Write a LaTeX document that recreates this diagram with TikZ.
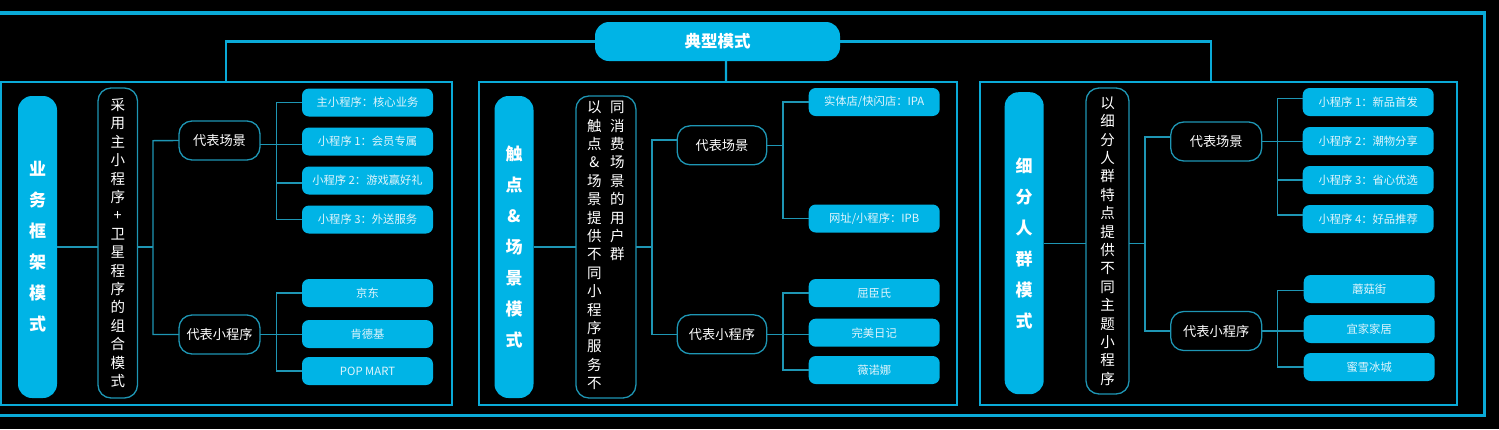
\documentclass[tikz,border=0pt]{standalone}
\usepackage{fontspec}
\usepackage{xcolor}
\usepackage{tikz}
\setmainfont{Noto Sans CJK SC}
\definecolor{accentcyan}{RGB}{0,180,230}
\definecolor{framecyan}{RGB}{10,170,215}
\definecolor{linecyan}{RGB}{30,150,180}
\definecolor{leaftext}{RGB}{225,245,252}
\usetikzlibrary{positioning}

\begin{document}
\begin{tikzpicture}[
    x=1pt, y=-1pt,
    panel/.style={rectangle, draw=framecyan, line width=2pt, outer sep=0pt, minimum width=#1, minimum height=323.5pt},
    root/.style={rectangle, fill=accentcyan, text=white, rounded corners=14pt, inner sep=0pt, outer sep=0pt, minimum width=245pt, minimum height=39pt, font=\fontsize{16.5}{20}\selectfont\bfseries},
    title/.style={rectangle, fill=accentcyan, text=white, rounded corners=14pt, inner sep=0pt, outer sep=0pt, align=center, minimum width=39pt, minimum height=#1, font=\fontsize{17}{31}\selectfont\bfseries},
    mid/.style={rectangle, draw=linecyan, line width=1.3pt, fill=black, text=white, rounded corners=13pt, inner sep=0pt, outer sep=0pt, align=center, minimum height=#1, font=\fontsize{14.5}{18.4}\selectfont},
    sub/.style={rectangle, draw=linecyan, line width=1.3pt, fill=black, text=white, rounded corners=13pt, inner sep=0pt, outer sep=0pt, minimum width=#1, minimum height=39pt, font=\fontsize{13.2}{16}\selectfont},
    leaf/.style={rectangle, fill=accentcyan, text=leaftext, rounded corners=7pt, inner sep=0pt, outer sep=0pt, minimum width=131pt, minimum height=28pt, font=\fontsize{11.3}{14}\selectfont},
    link/.style={draw=linecyan, line width=1.4pt},
    toplink/.style={draw=framecyan, line width=2.2pt}
]
\useasboundingbox[fill=black] (0,0) rectangle (1499,429);
\draw[framecyan, line width=3.8pt] (-5,13) rectangle (1484.5,415.5);

\node[panel=451.5pt] (frame1) at (226.25,243.25) {};
\node[panel=477.7pt, right=27pt of frame1] (frame2) {};
\node[panel=476.5pt, right=23.3pt of frame2] (frame3) {};

\node[root] (typical) at (717.5,41.5) {典型模式};

\draw[toplink] (typical.west) -| (frame1.north);
\draw[toplink] (typical.east) -| ([xshift=-7pt]frame3.north);
\draw[toplink] ([xshift=8.5pt]typical.south) -- ([xshift=8.2pt]frame2.north);

% framework
\node[title=302pt] (title1) at (37.5,247) {业\\务\\框\\架\\模\\式};
\node[mid=310pt, minimum width=39.5pt, right=41pt of title1, yshift=4pt] (mid1) {采\\用\\主\\小\\程\\序\\+\\卫\\星\\程\\序\\的\\组\\合\\模\\式};
\node[sub=81pt, right=41.5pt of mid1, yshift=102.5pt] (scene1) {代表场景};
\node[sub=81pt, below=155pt of scene1] (apps1) {代表小程序};

\node[leaf, right=42pt of scene1, yshift=38pt] (sa1) {主小程序：核心业务};
\node[leaf, below=11pt of sa1] (sa2) {小程序 1：会员专属};
\node[leaf, below=11pt of sa2] (sa3) {小程序 2：游戏赢好礼};
\node[leaf, below=11pt of sa3] (sa4) {小程序 3：外送服务};
\node[leaf, right=42pt of apps1, yshift=41.5pt] (pa1) {京东};
\node[leaf, below=13pt of pa1] (pa2) {肯德基};
\node[leaf, below=9pt of pa2] (pa3) {POP MART};

\coordinate (bus1) at (153,140.7);
\coordinate[right=16.7pt of scene1.east, yshift=-3.7pt] (sbus1);
\coordinate[right=16.7pt of apps1.east] (pbus1);

\draw[link] (title1.east) -- (title1.east -| mid1.west);
\draw[link] (title1.east -| mid1.east) -- (title1.east -| bus1);
\draw[link] (scene1.west) -- (bus1) |- (apps1.west);
\draw[link] (sbus1 -| scene1.east) -- (sbus1 -| sa2.west);
\draw[link] (sa1.west) -| (sbus1);
\draw[link] ([yshift=-2.5pt]sa3.west) -- ++(-25.3,0);
\draw[link] (sa4.west) -| (sbus1);
\draw[link] (apps1.east) -- (apps1.east -| pa2.west);
\draw[link] (pa1.west) -| (pbus1) |- (pa3.west);

% touchpoint
\node[title=302pt] (title2) at (514,247) {触\\点\\\&\\场\\景\\模\\式};
\node[mid=302pt, minimum width=60pt, right=42.4pt of title2] (mid2) {\begin{tabular}[t]{@{}c@{\hspace{8.5pt}}c@{}}以&同\\触&消\\点&费\\\&&场\\场&景\\景&的\\提&用\\供&户\\不&群\\同&\\小&\\程&\\序&\\服&\\务&\\不&\end{tabular}};
\node[sub=89.5pt, right=41.3pt of mid2, yshift=101.7pt] (scene2) {代表场景};
\node[sub=89.5pt, below=150pt of scene2] (apps2) {代表小程序};

\node[leaf, right=42pt of scene2, yshift=43.3pt] (sb1) {实体店/快闪店：IPA};
\node[leaf, below=88.5pt of sb1] (sb2) {网址/小程序：IPB};
\node[leaf, right=42pt of apps2, yshift=41.3pt] (pb1) {屈臣氏};
\node[leaf, below=11.7pt of pb1] (pb2) {完美日记};
\node[leaf, below=9.3pt of pb2] (pb3) {薇诺娜};

\coordinate (bus2) at (652,140);
\coordinate[right=16.3pt of scene2.east] (sbus2);
\coordinate[right=16.3pt of apps2.east] (pbus2);

\draw[link] (title2.east) -- (title2.east -| mid2.west);
\draw[link] (title2.east -| mid2.east) -- (title2.east -| bus2);
\draw[link] (bus2 -| scene2.west) -- (bus2) |- (apps2.west);
\draw[link] (scene2.east) -- (sbus2);
\draw[link] (sb1.west) -| (sbus2) |- (sb2.west);
\draw[link] (apps2.east) -- (apps2.east -| pb2.west);
\draw[link] (pb1.west) -| (pbus2) |- (pb3.west);

% audience
\node[title=302pt] (title3) at (1024.2,243.2) {细\\分\\人\\群\\模\\式};
\node[mid=306pt, minimum width=43pt, right=42.3pt of title3, yshift=2.2pt] (mid3) {以\\细\\分\\人\\群\\特\\点\\提\\供\\不\\同\\主\\题\\小\\程\\序};
\node[sub=91pt, right=41.7pt of mid3, yshift=99.5pt] (scene3) {代表场景};
\node[sub=91pt, below=150.5pt of scene3] (apps3) {代表小程序};

\node[leaf, right=41pt of scene3, yshift=39.5pt] (sc1) {小程序 1：新品首发};
\node[leaf, below=11pt of sc1] (sc2) {小程序 2：潮物分享};
\node[leaf, below=11pt of sc2] (sc3) {小程序 3：省心优选};
\node[leaf, below=11pt of sc3] (sc4) {小程序 4：好品推荐};
\node[leaf, right=42pt of apps3, yshift=42pt] (pc1) {蘑菇街};
\node[leaf, below=12pt of pc1] (pc2) {宜家家居};
\node[leaf, below=10pt of pc2] (pc3) {蜜雪冰城};

\coordinate (bus3) at (1145,137);
\coordinate[right=16pt of scene3.east] (sbus3);
\coordinate[right=16pt of apps3.east] (pbus3);

\draw[link] (title3.east) -- (mid3.west |- title3.east);
\draw[link] (title3.east -| mid3.east) -- (title3.east -| bus3);
\draw[link] (bus3 -| scene3.west) -- (bus3) |- (apps3.west);
\draw[link] (scene3.east) -- (sbus3 -| sc2.west);
\draw[link] ([yshift=3.3pt]sc1.west) -| (sbus3);
\draw[link] (sc3.west) -- (sc3.west -| sbus3);
\draw[link] ([yshift=4pt]sc4.west) -| (sbus3);
\draw[link] (apps3.east) -- (apps3.east -| pc2.west);
\draw[link] ([yshift=-1.7pt]pc1.west) -| (pbus3) |- (pc3.west);

\end{tikzpicture}
\end{document}
